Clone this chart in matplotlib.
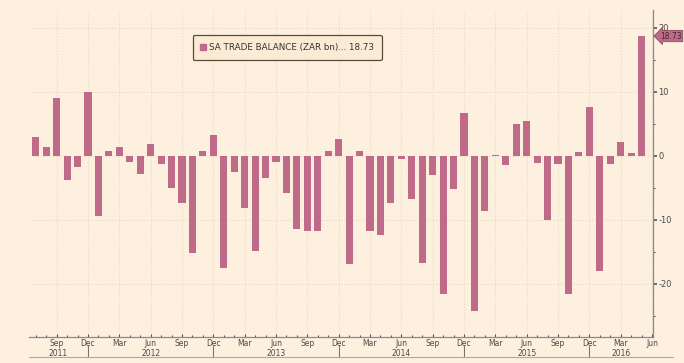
import matplotlib.pyplot as plt
from matplotlib.patches import Patch

# monthly trade balance, Jul 2011 .. May 2016 (ZAR bn)
months = ['Jul', 'Aug', 'Sep', 'Oct', 'Nov', 'Dec', 'Jan', 'Feb', 'Mar', 'Apr', 'May', 'Jun']
balance = [
    2.9, 1.4, 9.0, -3.8, -1.7, 10.0,                                        # 2011
    -9.4, 0.7, 1.4, -1.0, -2.8, 1.9, -1.3, -5.05, -7.4, -15.2, 0.8, 3.2,      # 2012
    -17.5, -2.5, -8.1, -14.9, -3.4, -1.0, -5.75, -11.5, -11.8, -11.7, 0.7, 2.6,  # 2013
    -16.9, 0.7, -11.8, -12.3, -7.4, -0.45, -6.7, -16.7, -2.95, -21.6, -5.2, 6.7,  # 2014
    -24.2, -8.65, 0.1, -1.4, 5.0, 5.5, -1.1, -10.05, -1.25, -21.6, 0.67, 7.6,  # 2015
    -18.0, -1.25, 2.1, 0.5, 18.73,                                          # 2016
]
last_value = 18.73
series_name = 'SA TRADE BALANCE (ZAR bn)'
quarter_labels = ['Sep', 'Dec', 'Mar', 'Jun']
years = [2011, 2012, 2013, 2014, 2015, 2016]
y_ticks = [20, 10, 0, -10, -20]

bg = '#fdf0df'
bar_col = '#bf6a88'
grid_col = '#e8d9c4'
txt_col = '#4a4a4a'

plt.rcParams['font.family'] = ['Liberation Sans Narrow', 'DejaVu Sans']

fig = plt.figure(figsize=(6.84, 3.63), dpi=100, facecolor=bg)
ax = fig.add_axes([29 / 684, 1 - 337 / 363, 624 / 684, 327 / 363])
ax.set_facecolor(bg)

x = list(range(len(balance)))
# month name for each slot, running one past the last bar (Jun 2016)
names = [months[i % 12] for i in range(len(balance) + 1)]
bars = ax.bar(x, balance, width=0.68, color=bar_col, zorder=3)

ax.set_xlim(-0.65, 59.1)
ax.set_ylim(-28.3, 22.8)

# x ticks: quarterly labels, monthly minor dots
qpos = [i for i, n in enumerate(names) if n in quarter_labels]
ax.set_xticks(qpos)
ax.set_xticklabels([names[i] for i in qpos], fontsize=5.5, color=txt_col)
ax.set_xticks(range(len(names)), minor=True)
ax.tick_params(axis='x', which='major', direction='in', length=2, width=0.8,
               color='#555555', pad=1.5)
ax.tick_params(axis='x', which='minor', direction='in', length=1.5, width=0.8, color='#555555')

ax.yaxis.tick_right()
ax.set_yticks(y_ticks)
ax.set_yticklabels([str(v) for v in y_ticks], fontsize=6, color=txt_col)
ax.set_yticks([15, 5, -5, -15, -25], minor=True)
ax.tick_params(axis='y', which='major', length=3, width=1.2, color='#555555', pad=1)
ax.tick_params(axis='y', which='minor', length=1.5, width=0.8, color='#555555')

ax.grid(True, which='major', color=grid_col, linestyle=':', linewidth=0.8, zorder=0)

for s in ['top', 'left']:
    ax.spines[s].set_visible(False)
ax.spines['right'].set_color('#8a8a8a')
ax.spines['bottom'].set_color('#8a8a8a')
ax.spines['right'].set_linewidth(0.9)
ax.spines['bottom'].set_linewidth(0.9)

# year strip under the axis
tr = ax.get_xaxis_transform()
dec_pos = [i for i, n in enumerate(names) if n == 'Dec']
for d in dec_pos:
    ax.plot([d, d], [-0.025, -0.062], transform=tr, color='#777777', lw=0.8, clip_on=False)
ax.plot([-0.65, 61.0], [-0.062, -0.062], transform=tr, color='#aaaaaa', lw=0.8, clip_on=False)
bounds = [-0.65] + dec_pos + [59.1]
for k, yr in enumerate(years):
    mid = (bounds[k] + bounds[k + 1]) / 2
    ax.text(mid, -0.049, str(yr), transform=tr, ha='center', va='center',
            fontsize=5.5, color=txt_col, clip_on=False)

# last value tag
ax.annotate(f'{last_value:.2f}', xy=(1.0, last_value), xycoords=('axes fraction', 'data'),
            xytext=(5, 0), textcoords='offset points', ha='left', va='center',
            fontsize=5.5, color='#3a2a30',
            bbox=dict(boxstyle='larrow,pad=0.15', fc=bar_col, ec='#8a4a60', lw=0.6),
            annotation_clip=False)

# legend box
leg = ax.legend([Patch(color=bar_col)], [f'{series_name}... {last_value:.2f}'],
                loc='center', bbox_to_anchor=(0.42, 0.87), bbox_transform=fig.transFigure,
                fontsize=6.3, handlelength=0.6, handleheight=0.7, handletextpad=0.4,
                borderpad=0.9, fancybox=True, framealpha=1)
leg.get_frame().set_facecolor('#fcebd4')
leg.get_frame().set_edgecolor('#5a4a3a')
leg.get_frame().set_linewidth(0.9)
for t in leg.get_texts():
    t.set_color('#333333')

fig.savefig('out.png', dpi=100, facecolor=bg)
